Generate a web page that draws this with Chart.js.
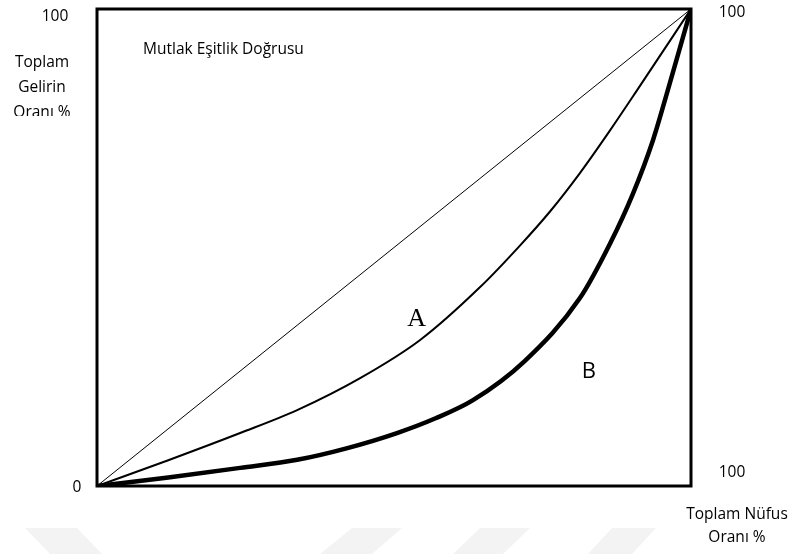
<!DOCTYPE html>
<html>
<head>
<meta charset="utf-8">
<style>
  html, body { margin: 0; padding: 0; background: #ffffff; }
  #wrap { width: 790px; height: 554px; }
</style>
<script src="https://cdn.jsdelivr.net/npm/chart.js@4.4.1/dist/chart.umd.min.js"></script>
</head>
<body>
<div id="wrap"><canvas id="lorenzChart" width="790" height="554"></canvas></div>
<script>
// population share (%) and income share (%)
const equalityX = [0, 100];
const equalityY = [0, 100];

const curveAX = [0, 12, 24.1, 33.7, 44.3, 54.4, 64.5, 71.2, 76.3, 81.3, 86.4, 91.1, 100];
const curveAY = [0, 5.4, 11.1, 15.9, 22.6, 30.6, 41.7, 50.4, 57.6, 65.6, 74.6, 83.3, 100];

const curveBX = [0, 12, 24.1, 33.7, 42, 50.5, 57, 63.3, 72, 81.3, 86.4, 90.2, 93.6, 96.1, 100];
const curveBY = [0, 1.8, 3.8, 5.5, 7.9, 11.1, 14.2, 18.0, 26.2, 39.4, 50.9, 61.2, 72.5, 83.0, 100];

const yTickLabels = ['0', '100'];
const xTickLabels = ['100'];
const yAxisTitle = ['Toplam', 'Gelirin', 'Oranı %'];
const xAxisTitle = ['Toplam Nüfus', 'Oranı %'];
const equalityLabel = 'Mutlak Eşitlik Doğrusu';
const curveNames = ['A', 'B'];

function toPoints(xs, ys) {
    return xs.map((x, i) => ({ x: x, y: ys[i] }));
}

const sansFont = '"Open Sans", "Noto Sans", sans-serif';

// faint watermark in the lower part of the page
const watermarkPlugin = {
    id: 'watermark',
    beforeDraw(chart) {
        const ctx = chart.ctx;
        ctx.save();
        ctx.fillStyle = '#f3f3f3';
        const shapes = [
            [[25, 528], [77, 528], [102, 554], [50, 554]],
            [[352, 528], [402, 528], [372, 554], [320, 554]],
            [[480, 528], [530, 528], [503, 554], [453, 554]],
            [[612, 528], [656, 528], [632, 554], [588, 554]]
        ];
        shapes.forEach(s => {
            ctx.beginPath();
            ctx.moveTo(s[0][0], s[0][1]);
            for (let i = 1; i < s.length; i++) ctx.lineTo(s[i][0], s[i][1]);
            ctx.closePath();
            ctx.fill();
        });
        ctx.restore();
    }
};

const framePlugin = {
    id: 'frame',
    afterDatasetsDraw(chart) {
        const ctx = chart.ctx;
        const a = chart.chartArea;
        const xs = chart.scales.x;
        const ys = chart.scales.y;
        ctx.save();
        ctx.strokeStyle = '#000';
        ctx.lineWidth = 3;
        ctx.strokeRect(a.left, a.top, a.right - a.left, a.bottom - a.top);

        ctx.fillStyle = '#000';
        ctx.textAlign = 'center';
        ctx.textBaseline = 'middle';
        ctx.font = '15.5px ' + sansFont;

        // left side tick labels
        ctx.fillText(yTickLabels[1], 55, ys.getPixelForValue(100) + 8);
        ctx.fillText(yTickLabels[0], 77, ys.getPixelForValue(0) + 2);
        // right side tick labels
        ctx.fillText(yTickLabels[1], 732, ys.getPixelForValue(100) + 4);
        ctx.fillText(xTickLabels[0], 732, ys.getPixelForValue(0) - 13);

        // y title, last line clipped like the original
        ctx.save();
        ctx.beginPath();
        ctx.rect(0, 0, 97, 116);
        ctx.clip();
        yAxisTitle.forEach((t, i) => ctx.fillText(t, 42, 63 + i * 25));
        ctx.restore();

        xAxisTitle.forEach((t, i) => ctx.fillText(t, 737, 515 + i * 23));

        ctx.textAlign = 'left';
        ctx.fillText(equalityLabel, 143, 50);

        ctx.textAlign = 'center';
        ctx.font = '26px "Liberation Serif", "DejaVu Serif", serif';
        ctx.fillText(curveNames[0], xs.getPixelForValue(53.8), ys.getPixelForValue(35));
        ctx.font = '22px ' + sansFont;
        ctx.fillText(curveNames[1], xs.getPixelForValue(82.8), ys.getPixelForValue(24));
        ctx.restore();
    }
};

new Chart(document.getElementById('lorenzChart').getContext('2d'), {
    type: 'scatter',
    data: {
        datasets: [
            {
                label: 'B',
                data: toPoints(curveBX, curveBY),
                showLine: true,
                borderColor: '#000',
                borderWidth: 4.5,
                cubicInterpolationMode: 'monotone',
                pointRadius: 0
            },
            {
                label: 'A',
                data: toPoints(curveAX, curveAY),
                showLine: true,
                borderColor: '#000',
                borderWidth: 2,
                cubicInterpolationMode: 'monotone',
                pointRadius: 0
            },
            {
                label: equalityLabel,
                data: toPoints(equalityX, equalityY),
                showLine: true,
                borderColor: '#000',
                borderWidth: 1,
                pointRadius: 0
            }
        ]
    },
    options: {
        responsive: false,
        animation: false,
        layout: { padding: { left: 97, right: 99, top: 9, bottom: 68 } },
        scales: {
            x: { type: 'linear', min: 0, max: 100, display: false },
            y: { type: 'linear', min: 0, max: 100, display: false }
        },
        plugins: {
            legend: { display: false },
            tooltip: { enabled: false }
        }
    },
    plugins: [watermarkPlugin, framePlugin]
});
</script>
</body>
</html>
